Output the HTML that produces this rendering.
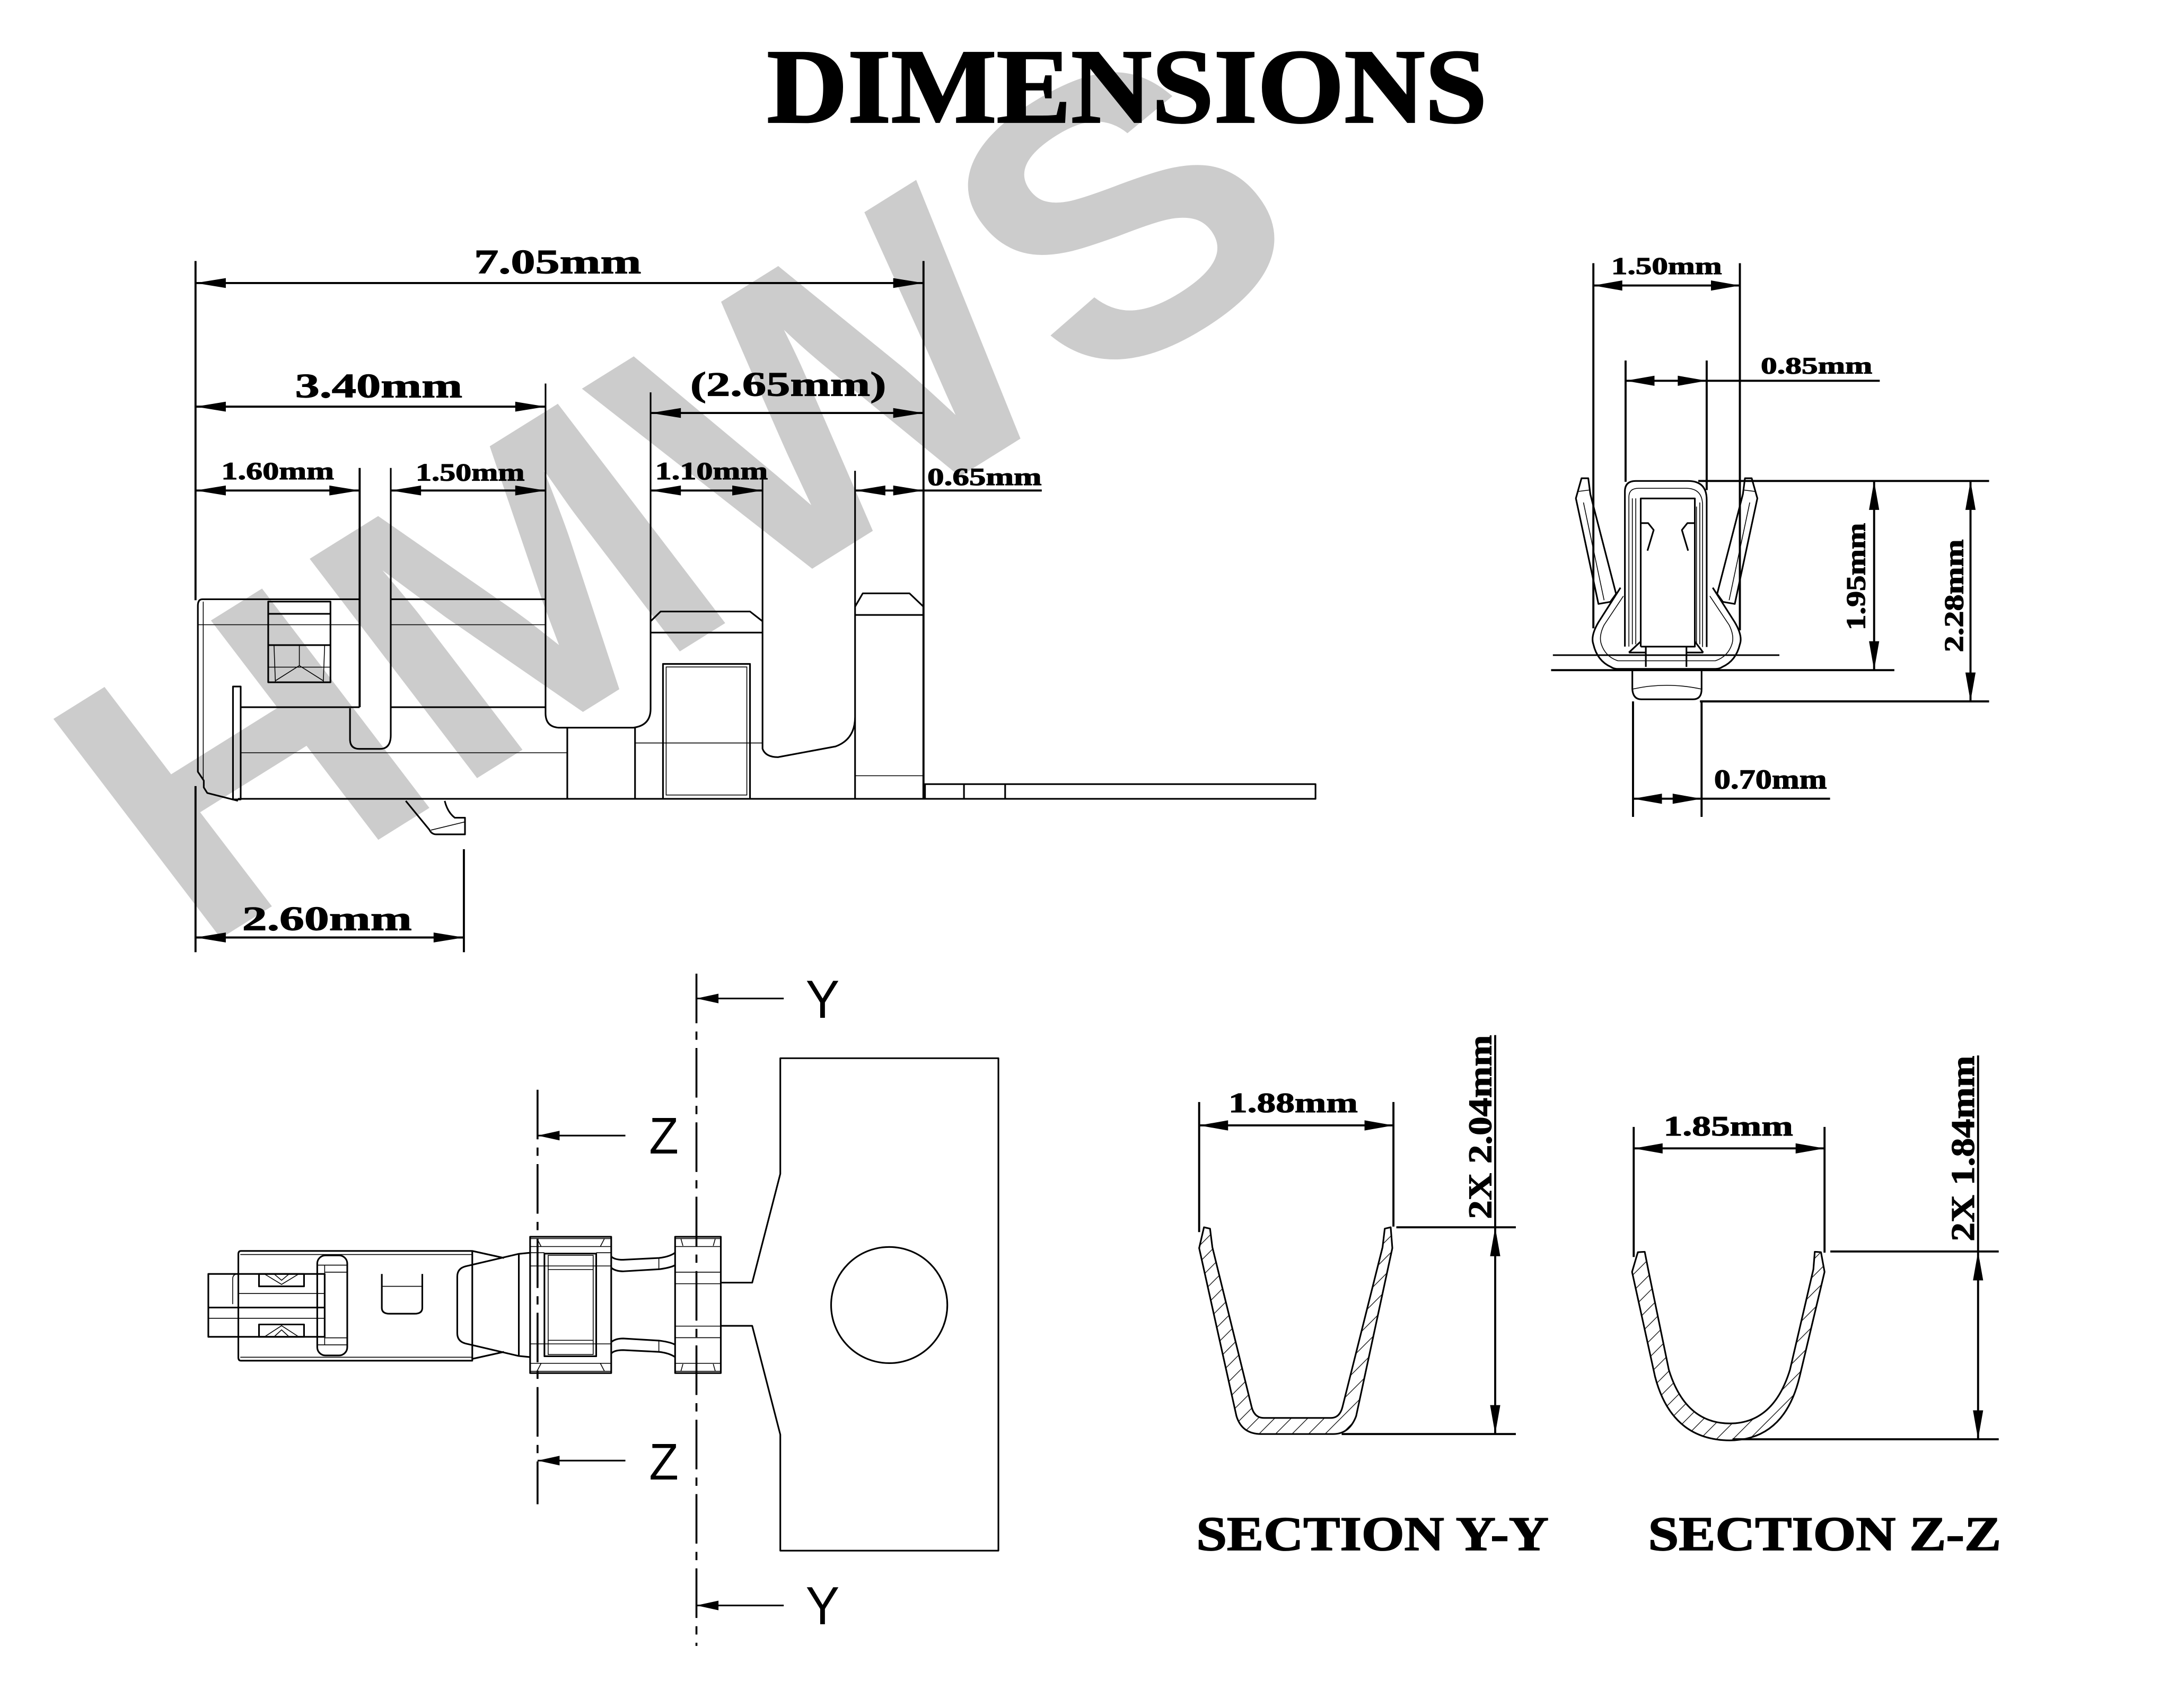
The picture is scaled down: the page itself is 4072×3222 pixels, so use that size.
<!DOCTYPE html>
<html><head><meta charset="utf-8"><style>
html,body{margin:0;padding:0;background:#fff;}
svg{display:block;}
.d{stroke:#000;stroke-width:1.5;fill:none;}
.p{stroke:#000;stroke-width:1.2;fill:none;stroke-linejoin:round;}
.t{stroke:#000;stroke-width:0.6;fill:none;}
.a{fill:#000;stroke:none;}
.lb{font-family:"Liberation Serif",serif;font-weight:bold;fill:#000;stroke:#000;stroke-width:0.45;}
.ls{font-family:"Liberation Sans",sans-serif;fill:#000;}
.dd{stroke:#000;stroke-width:1.4;fill:none;stroke-dasharray:36 6 6 6;}
</style></head><body>
<svg width="4072" height="3222" viewBox="0 0 1568 1240.7" preserveAspectRatio="none" xmlns="http://www.w3.org/2000/svg">
<defs>
<clipPath id="wc"><rect x="0" y="0" width="1568" height="694"/></clipPath>
<pattern id="h" patternUnits="userSpaceOnUse" width="12" height="12"><path d="M0,12 L12,0 M-3,3 L3,-3 M9,15 L15,9" stroke="#000" stroke-width="0.5"/></pattern>
</defs>
<rect x="0" y="0" width="1568" height="1240.7" fill="#fff"/>

<!-- watermark -->
<g clip-path="url(#wc)"><text transform="translate(143.1,692.3) rotate(-32) scale(1.048,1) skewX(5.1)" font-family="Liberation Sans, sans-serif" font-weight="bold" font-size="290" fill="#cccccc">HMWS</text></g>

<!-- title -->
<text x="557" y="88.7" class="lb" font-size="77" style="stroke-width:1.2" textLength="523" lengthAdjust="spacingAndGlyphs">DIMENSIONS</text>

<!-- ===== SIDE VIEW ===== -->
<path class="d" d="M142,189.6 V436 M142,571 V691.7 M670.7,189.6 V580.3 M142,205.6 H670.7 M142,295.4 H396.2 M472.5,300 H670.7 M142,356.3 H261.2 M283.8,356.3 H396.2 M472.5,356.3 H553.8 M621,356.3 H756.6 M142,681 H336.9 M336.9,616.9 V691.7 M261.2,339.9 V513.7"/>
<g class="a">
<polygon points="142,205.6 164,202 164,209.2"/><polygon points="670.7,205.6 648.7,202 648.7,209.2"/>
<polygon points="142,295.4 164,291.8 164,299"/><polygon points="396.2,295.4 374.2,291.8 374.2,299"/>
<polygon points="472.5,300 494.5,296.4 494.5,303.6"/><polygon points="670.7,300 648.7,296.4 648.7,303.6"/>
<polygon points="142,356.3 164,352.7 164,359.9"/><polygon points="261.2,356.3 239.2,352.7 239.2,359.9"/>
<polygon points="283.8,356.3 305.8,352.7 305.8,359.9"/><polygon points="396.2,356.3 374.2,352.7 374.2,359.9"/>
<polygon points="472.5,356.3 494.5,352.7 494.5,359.9"/><polygon points="553.8,356.3 531.8,352.7 531.8,359.9"/>
<polygon points="621,356.3 643,352.7 643,359.9"/><polygon points="670.7,356.3 648.7,352.7 648.7,359.9"/>
<polygon points="142,681 164,677.4 164,684.6"/><polygon points="336.9,681 314.9,677.4 314.9,684.6"/>
</g>
<text x="344.3" y="198.5" class="lb" font-size="25" textLength="121.4" lengthAdjust="spacingAndGlyphs">7.05mm</text>
<text x="214.3" y="288.6" class="lb" font-size="25" textLength="121.5" lengthAdjust="spacingAndGlyphs">3.40mm</text>
<text x="501.3" y="287.5" class="lb" font-size="25" textLength="142.3" lengthAdjust="spacingAndGlyphs">(2.65mm)</text>
<text x="160.7" y="348.1" class="lb" font-size="18" textLength="81.9" lengthAdjust="spacingAndGlyphs">1.60mm</text>
<text x="301.9" y="349.1" class="lb" font-size="18" textLength="79.1" lengthAdjust="spacingAndGlyphs">1.50mm</text>
<text x="475.8" y="348.1" class="lb" font-size="18" textLength="81.9" lengthAdjust="spacingAndGlyphs">1.10mm</text>
<text x="673.5" y="352.3" class="lb" font-size="18" textLength="83" lengthAdjust="spacingAndGlyphs">0.65mm</text>
<text x="175.9" y="675.7" class="lb" font-size="25" textLength="123.2" lengthAdjust="spacingAndGlyphs">2.60mm</text>

<path class="p" d="M143.7,440 Q143.7,435.3 147,435.3 H261.2 M283.8,435.3 H396.2
M143.7,440 V560.6 L148,567 V572 L150.5,576 L172.8,581.7
M174.8,513.7 H261.2 M283.8,513.7 H396.2
M254.2,514.5 V537 Q254.2,544 261,544 H276 Q283.8,544 283.8,534 V339.9
M396.2,278.6 V518 Q396.2,528.6 407,528.6 H460 Q472.5,527 472.5,515 V285
M172.8,580.3 H481.5 M544.7,580.3 H671.8
M412,528.6 V580.3 M461.2,528 V580.3
M472.5,451.3 L479.8,444.2 H544.7 L553.8,451.3 M472.5,459.5 H553.8
M553.8,342 V543.9 Q556,550 565,550 L606.9,542.2 Q621,537 621,520.8 M621,342 V580.3
M621,440.7 L626.6,431 H660.5 L670.7,440.7 M621,446.7 H670.7
M294.7,581.8 L311.9,602.8 Q313.5,606.1 317,606.1 H337.7 V594 H330.3 Q325,590 323,581.8
M194.8,445.9 H240 M194.8,468.6 H240"/>
<rect class="p" x="169.2" y="498.7" width="5.6" height="82"/>
<rect class="p" x="481.5" y="482.3" width="63.2" height="98"/>
<rect class="t" x="483.8" y="484.5" width="58.6" height="93"/>
<rect class="p" x="671.8" y="569.6" width="283.6" height="10.7"/>
<rect class="p" x="194.8" y="437" width="45.2" height="58.6"/>
<path class="p" d="M700.1,569.6 V580.3 M730,569.6 V580.3"/>
<path class="t" d="M147.6,437 V566 M143.7,453.8 H261.2 M283.8,453.8 H396.2 M174.8,546.8 H412 M461.2,539.7 H553.8 M621,563.5 H670.7 M313,603 L337.7,597
M194.8,484.6 H240 M199,468.6 L200,495.6 M235.8,468.6 L234.8,495.6 M217.4,468.6 V483.5 L200,494.5 M217.4,483.5 L234.8,494.5"/>

<!-- ===== END VIEW ===== -->
<path class="d" d="M1157.2,191.2 V456.4 M1263.6,191.2 V457.9 M1157.2,207.4 H1263.6
M1180.6,261.9 V350 M1239.5,261.9 V356 M1180.6,276.6 H1365.2
M1233.4,349.4 H1444.6 M1126.5,486.8 H1375.8 M1361.1,349.4 V486.8
M1234.6,509.5 H1444.6 M1431.1,349.4 V509.5
M1186,509.5 V593.4 M1235.8,509.5 V593.4 M1186,580.2 H1329.1"/>
<g class="a">
<polygon points="1157.2,207.4 1178.2,203.7 1178.2,211.1"/><polygon points="1263.6,207.4 1242.6,203.7 1242.6,211.1"/>
<polygon points="1180.6,276.6 1201.6,272.9 1201.6,280.3"/><polygon points="1239.5,276.6 1218.5,272.9 1218.5,280.3"/>
<polygon points="1361.1,349.4 1357.4,370.4 1364.8,370.4"/><polygon points="1361.1,486.8 1357.4,465.8 1364.8,465.8"/>
<polygon points="1431.1,349.4 1427.4,370.4 1434.8,370.4"/><polygon points="1431.1,509.5 1427.4,488.5 1434.8,488.5"/>
<polygon points="1186,580.2 1207,576.5 1207,583.9"/><polygon points="1235.8,580.2 1214.8,576.5 1214.8,583.9"/>
</g>
<text x="1170.2" y="199.1" class="lb" font-size="17.5" textLength="80.4" lengthAdjust="spacingAndGlyphs">1.50mm</text>
<text x="1278.8" y="271.3" class="lb" font-size="17" textLength="81" lengthAdjust="spacingAndGlyphs">0.85mm</text>
<text transform="translate(1354.4,418.9) rotate(-90)" text-anchor="middle" class="lb" font-size="19.5" textLength="78" lengthAdjust="spacingAndGlyphs">1.95mm</text>
<text transform="translate(1425.7,432.8) rotate(-90)" text-anchor="middle" class="lb" font-size="19.5" textLength="82" lengthAdjust="spacingAndGlyphs">2.28mm</text>
<text x="1244.9" y="572.8" class="lb" font-size="20" textLength="81.9" lengthAdjust="spacingAndGlyphs">0.70mm</text>

<path class="p" d="M1127.8,475.9 H1292.3
M1180.1,469.7 V357 Q1180.1,349.4 1188,349.4 H1226 Q1239.5,349.4 1239.5,363 V470
M1191.6,469.7 V362.1 H1230.9 V469.7 H1191.6
M1191.6,380 H1197 L1201,385 L1196.5,400 M1230.9,380 H1225.5 L1221.5,385 L1226,400
M1183,474 L1191.6,466 M1237,474 L1230.9,466 M1195.3,469.7 V484.4 M1224.8,469.7 V484.4 M1183,474 H1195.3 M1224.8,474 H1237
M1144.5,362 L1148.6,347.4 H1153.5 L1155,359 L1173.7,431.4 L1169.5,437.2 L1160.9,438.7 Z
M1276.3,362 L1272.2,347.4 H1267.3 L1265.8,359 L1247.1,431.4 L1251.3,437.2 L1259.9,438.7 Z
M1176.9,426.9 L1160.9,452 Q1155,462 1157.2,468 Q1160,480 1170,484.5 Q1172,485.9 1175,485.9 H1245.8 Q1248.8,485.9 1250.8,484.5 Q1260.8,480 1263.6,468 Q1265.8,462 1259.9,452 L1243.9,426.9
M1185.5,487.3 V500.6 Q1186,508 1192,508 H1229.6 Q1235.8,508 1235.8,500.6 V487.3"/>
<path class="t" d="M1183,469.7 V361 Q1183,354.7 1190,354.7 H1225 Q1236.5,355 1236.5,367 V470
M1185.5,362 V468 M1188,362 V468 M1232.1,368 V468 M1234.5,365 V468
M1146,357 L1154,356 M1150,365 L1165,436 M1274.8,357 L1266.8,356 M1270.8,365 L1255.8,436
M1179,433 L1165,454 Q1161,462 1163,468 Q1166,477 1175,480 H1245.8 Q1254.8,477 1257.8,468 Q1259.8,462 1255.8,454 L1241.8,433
M1185.5,500.6 Q1210,495 1235.8,500.6"/>

<!-- ===== SECTIONS ===== -->
<path d="M870.9,906.6 L874.4,891.5 L878.8,892.5 L880.5,906 L909,1022 Q911,1030 918,1030 L966.5,1030 Q973,1030 975,1022 L1004.1,906 L1005.7,892.5 L1010,891.5 L1011.2,906.6 L984.9,1028.7 Q980,1041.7 968.2,1041.7 L916,1041.7 Q902,1041.7 898,1028.7 Z" fill="url(#h)" stroke="#000" stroke-width="1.2" stroke-linejoin="round"/>
<path d="M1185.3,923.9 L1189.5,909.6 L1194.5,909.3 L1197,922 L1212,995 Q1224,1034 1256.3,1034 Q1288,1034 1300,995 L1317,922 L1318,909.3 L1322.5,909.6 L1325.1,923.9 L1307,1000 Q1296,1046 1256.3,1046.3 Q1214,1046 1202,1000 Z" fill="url(#h)" stroke="#000" stroke-width="1.2" stroke-linejoin="round"/>
<path class="d" d="M870.9,800.5 V895 M1012,800.5 V891 M870.9,817.5 H1012
M1014.1,891.5 H1100.9 M974.4,1041.7 H1100.9 M1085.9,751.9 V1041.7
M1186.5,818.6 V913.1 M1325.1,818.6 V909.9 M1186.5,834.2 H1325.1
M1329.3,909.1 H1451.6 M1258.3,1045.5 H1451.6 M1436.6,766.7 V1045.5"/>
<g class="a">
<polygon points="870.9,817.5 891.9,813.8 891.9,821.2"/><polygon points="1012,817.5 991,813.8 991,821.2"/>
<polygon points="1085.9,891.5 1082.2,912.5 1089.6,912.5"/><polygon points="1085.9,1041.7 1082.2,1020.7 1089.6,1020.7"/>
<polygon points="1186.5,834.2 1207.5,830.5 1207.5,837.9"/><polygon points="1325.1,834.2 1304.1,830.5 1304.1,837.9"/>
<polygon points="1436.6,909.1 1432.9,930.1 1440.3,930.1"/><polygon points="1436.6,1045.5 1432.9,1024.5 1440.3,1024.5"/>
</g>
<text x="892.2" y="807.8" class="lb" font-size="20.5" textLength="93.9" lengthAdjust="spacingAndGlyphs">1.88mm</text>
<text transform="translate(1083,818.7) rotate(-90)" text-anchor="middle" class="lb" font-size="24" textLength="133.7" lengthAdjust="spacingAndGlyphs">2X 2.04mm</text>
<text x="1208.2" y="824.8" class="lb" font-size="20.5" textLength="94" lengthAdjust="spacingAndGlyphs">1.85mm</text>
<text transform="translate(1433.7,834.3) rotate(-90)" text-anchor="middle" class="lb" font-size="24" textLength="135" lengthAdjust="spacingAndGlyphs">2X 1.84mm</text>
<text x="868.8" y="1126" class="lb" font-size="35" style="stroke-width:0.7" textLength="255.9" lengthAdjust="spacingAndGlyphs">SECTION Y-Y</text>
<text x="1197" y="1126" class="lb" font-size="35" style="stroke-width:0.7" textLength="256.3" lengthAdjust="spacingAndGlyphs">SECTION Z-Z</text>

<!-- ===== PLAN VIEW ===== -->
<path class="p" d="M175,908.7 H343 V988.4 H175 Q173.1,988.4 173.1,986 V911 Q173.1,908.7 175,908.7 Z
M151.3,925.4 H235.8 V971.1 H151.3 Z M151.3,949.8 H235.8
M277.3,925.4 V950 Q277.3,954.3 283,954.3 H301 Q306.7,954.3 306.7,950 V925.4
M343,908.7 L366,913.8 M338,919.9 L376.8,910.8 L385,910 M332.1,927.3 Q332.1,921.5 338,919.9
M343,987.1 L366,982 M338,975.9 L376.8,985 L385,985.8 M332.1,968.5 Q332.1,974.3 338,975.9
M332.1,927.3 V968.5 M376.8,910.8 V985
M443.9,912.6 Q446,915.1 452.6,915.1 L478.5,913.8 Q486,913 490.3,910
M443.9,920.9 Q447,923.5 452.6,923.5 L478.5,922 Q487,920.9 490.3,919
M443.9,983.2 Q446,980.7 452.6,980.7 L478.5,982 Q486,982.8 490.3,985.8
M443.9,974.9 Q447,972.3 452.6,972.3 L478.5,973.8 Q487,974.9 490.3,976.8
M523.5,931.7 H546.3 L566.7,852.7 V768.7 H725.1 V1126.4 H566.7 V1042.1 L546.3,963.1 H523.5"/>
<rect class="p" x="230.4" y="911.9" width="21.8" height="72.7" rx="6"/>
<rect class="p" x="188.1" y="925.4" width="32.7" height="9"/>
<rect class="p" x="188.1" y="962.1" width="32.7" height="9"/>
<rect class="p" x="385" y="898.4" width="58.9" height="99"/>
<rect class="p" x="395.4" y="910.6" width="37.6" height="74.6"/>
<rect class="p" x="490.3" y="898.4" width="33.2" height="99"/>
<circle class="p" cx="645.8" cy="948" r="42.2"/>
<path class="t" d="M174.5,911.3 H343 M174.5,985.9 H343
M169,947.3 V929 Q169,925.4 173,925.4 M173.1,939.6 H235.8 M151.3,957.6 H235.8
M235.8,924.1 H252.2 M235.8,971.8 H252.2 M235.8,919 V976.9 M230.4,919 H252.2 M230.4,976.9 H252.2
M192,925.4 L204.5,933 L217,925.4 M199,925.4 L204.5,930 L210,925.4
M192,971.1 L204.5,963 L217,971.1 M199,971.1 L204.5,966 L210,971.1
M277.3,934.4 H306.7
M385,899.7 H443.9 M390,899.7 L393,905.5 M439,899.7 L436,905.5 M385,905.5 H443.9 M385,910 H395.4 M433,910 H443.9
M385,996.1 H443.9 M390,996.1 L393,990.3 M439,996.1 L436,990.3 M385,990.3 H443.9
M385,919.6 H443.9 M385,976.2 H443.9
M398.1,911.9 H430.8 V983.9 H398.1 Z M398.1,922.2 H430.8 M398.1,973.6 H430.8
M478.5,913.8 V922 M478.5,973.8 V982
M490.3,899.7 H523.5 M494.5,899.7 L496,905 M519.5,899.7 L518,905 M490.3,905.5 H523.5
M490.3,996.1 H523.5 M494.5,996.1 L496,990.8 M519.5,996.1 L518,990.8 M490.3,990.3 H523.5
M490.3,924.1 H523.5 M490.3,932.5 H523.5 M490.3,963.3 H523.5 M490.3,971.7 H523.5"/>

<!-- section markers -->
<path class="dd" d="M505.8,707.3 V1195.6 M390.4,791.6 V1092.7"/>
<path class="p" d="M505.8,725.3 H569.2 M505.8,1166.2 H569.2 M390.4,824.9 H454.2 M390.4,1061 H454.2"/>
<g class="a">
<polygon points="505.8,725.3 521.8,721.8 521.8,728.8"/><polygon points="505.8,1166.2 521.8,1162.7 521.8,1169.7"/>
<polygon points="390.4,824.9 406.4,821.4 406.4,828.4"/><polygon points="390.4,1061 406.4,1057.5 406.4,1064.5"/>
</g>
<text x="585.1" y="739.3" class="ls" font-size="39" textLength="24.6" lengthAdjust="spacingAndGlyphs">Y</text>
<text x="585.1" y="1179.9" class="ls" font-size="39" textLength="24.6" lengthAdjust="spacingAndGlyphs">Y</text>
<text x="471.4" y="838" class="ls" font-size="37.5" textLength="21.4" lengthAdjust="spacingAndGlyphs">Z</text>
<text x="471.4" y="1074.8" class="ls" font-size="37.5" textLength="21.4" lengthAdjust="spacingAndGlyphs">Z</text>
</svg>
</body></html>
